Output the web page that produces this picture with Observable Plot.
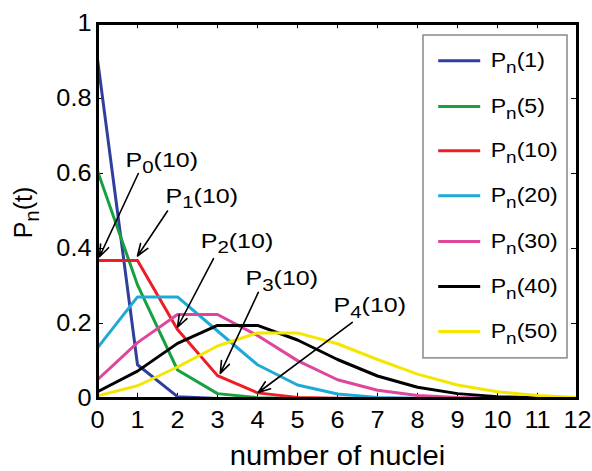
<!DOCTYPE html>
<html>
<head>
<meta charset="utf-8">
<script src="https://cdn.jsdelivr.net/npm/d3@7"></script>
<script src="https://cdn.jsdelivr.net/npm/@observablehq/plot@0.6"></script>
<style>
  html, body { margin: 0; padding: 0; background: #fff; }
  #chart svg { display: block; }
</style>
</head>
<body>
<div id="chart"></div>
<script>
// ---- data ----
const nuclei = [0, 1, 2, 3, 4, 5, 6, 7, 8, 9, 10, 11, 12];
const seriesNames = ["P_n(1)", "P_n(5)", "P_n(10)", "P_n(20)", "P_n(30)", "P_n(40)", "P_n(50)"];
const seriesColors = ["#2e3f9e", "#16a040", "#ee1c24", "#1eaad6", "#e0459c", "#000000", "#f5e600"];
const p1  = [0.905, 0.090, 0.005, 0.000, 0.000, 0.000, 0.000, 0.000, 0.000, 0.000, 0.000, 0.000, 0.000];
const p5  = [0.607, 0.303, 0.076, 0.013, 0.002, 0.000, 0.000, 0.000, 0.000, 0.000, 0.000, 0.000, 0.000];
const p10 = [0.368, 0.368, 0.184, 0.061, 0.015, 0.003, 0.001, 0.000, 0.000, 0.000, 0.000, 0.000, 0.000];
const p20 = [0.135, 0.271, 0.271, 0.180, 0.090, 0.036, 0.012, 0.003, 0.001, 0.000, 0.000, 0.000, 0.000];
const p30 = [0.050, 0.149, 0.224, 0.224, 0.168, 0.101, 0.050, 0.022, 0.008, 0.003, 0.001, 0.000, 0.000];
const p40 = [0.018, 0.073, 0.147, 0.195, 0.195, 0.156, 0.104, 0.060, 0.030, 0.013, 0.005, 0.002, 0.001];
const p50 = [0.007, 0.034, 0.084, 0.140, 0.175, 0.175, 0.146, 0.104, 0.065, 0.036, 0.018, 0.008, 0.003];
const seriesValues = [p1, p5, p10, p20, p30, p40, p50];

const xTicks = [0, 1, 2, 3, 4, 5, 6, 7, 8, 9, 10, 11, 12];
const yTicks = [0, 0.2, 0.4, 0.6, 0.8, 1];
const yTickLabels = ["0", "0.2", "0.4", "0.6", "0.8", "1"];
const xLabel = "number of nuclei";
const yLabel = "P_n(t)";

// annotations (data units): label, label position, arrow tail, arrow tip
const annLabels = ["P_0(10)", "P_1(10)", "P_2(10)", "P_3(10)", "P_4(10)"];
const annTextX  = [0.70, 1.70, 2.58, 3.70, 5.90];
const annTextY  = [0.635, 0.540, 0.420, 0.320, 0.248];
const annTailX  = [1.02, 1.75, 2.90, 4.02, 6.37];
const annTailY  = [0.600, 0.500, 0.373, 0.283, 0.203];
const annTipX   = [0.05, 1.00, 2.00, 3.07, 4.02];
const annTipY   = [0.378, 0.380, 0.190, 0.067, 0.016];

// legend box and rows (data units)
const legendBox = {x1: 8.15, x2: 11.75, y1: 0.107, y2: 0.968};
const legendRowY = [0.901, 0.779, 0.661, 0.541, 0.419, 0.299, 0.179];
const legendLineX = [8.53, 9.58];
const legendTextX = 9.83;

// ---- build tables ----
const lineData = [];
seriesNames.forEach((name, i) => {
  nuclei.forEach((n, j) => lineData.push({series: name, n, p: seriesValues[i][j]}));
});
const ann = annLabels.map((l, i) => ({
  label: l, tx: annTextX[i], ty: annTextY[i],
  x1: annTailX[i], y1: annTailY[i], x2: annTipX[i], y2: annTipY[i]
}));
const legendRows = seriesNames.map((name, i) => ({
  name, color: seriesColors[i], y: legendRowY[i]
}));

const font = "'Liberation Sans', Arial, Helvetica, sans-serif";

const chart = Plot.plot({
  width: 592,
  height: 471,
  marginLeft: 97,
  marginRight: 15,
  marginTop: 23,
  marginBottom: 73,
  style: {fontFamily: font, fontSize: "23px", color: "#000", background: "#fff"},
  x: {domain: [0, 12], ticks: xTicks},
  y: {domain: [0, 1], ticks: yTicks},
  color: {domain: seriesNames, range: seriesColors},
  marks: [
    Plot.axisX({ticks: xTicks, tickSize: 0, tickPadding: 13, label: null, fontSize: 23}),
    Plot.axisY({ticks: yTicks, tickSize: 0, tickPadding: 6, label: null, fontSize: 23,
      tickFormat: (d) => yTickLabels[yTicks.indexOf(d)]}),
    // inward ticks on all sides
    Plot.ruleX(xTicks, {y1: 0, y2: 0.014, stroke: "#000", strokeWidth: 1}),
    Plot.ruleX(xTicks, {y1: 1, y2: 0.986, stroke: "#000", strokeWidth: 1}),
    Plot.ruleY(yTicks, {x1: 0, x2: 0.15, stroke: "#000", strokeWidth: 1}),
    Plot.ruleY(yTicks, {x1: 12, x2: 11.85, stroke: "#000", strokeWidth: 1}),
    // series
    Plot.line(lineData, {x: "n", y: "p", z: "series", stroke: "series", strokeWidth: 3}),
    // annotations
    Plot.arrow(ann, {x1: "x1", y1: "y1", x2: "x2", y2: "y2", stroke: "#000",
      strokeWidth: 1.6, headLength: 12, headAngle: 40}),
    Plot.text(ann, {x: "tx", y: "ty", text: "label", textAnchor: "start", fontSize: 21, fill: "#000"}),
    // legend
    Plot.rect([legendBox], {x1: "x1", x2: "x2", y1: "y1", y2: "y2", fill: "#fff",
      stroke: "#888", strokeWidth: 1.5}),
    Plot.ruleY(legendRows, {y: "y", x1: legendLineX[0], x2: legendLineX[1], stroke: "color", strokeWidth: 3}),
    Plot.text(legendRows, {x: legendTextX, y: "y", text: "name", textAnchor: "start", fontSize: 21, fill: "#000"}),
    // frame
    Plot.frame({stroke: "#000", strokeWidth: 3}),
    // axis labels
    Plot.text([xLabel], {frameAnchor: "bottom", dy: 66, fontSize: 27, fill: "#000"}),
    Plot.text([yLabel], {frameAnchor: "left", textAnchor: "middle", dx: -71, rotate: -90, fontSize: 25, fill: "#000"})
  ]
});

// classify text elements (before subscript processing)
const kind = new Map();
chart.querySelectorAll("text").forEach((t) => {
  const s = t.textContent;
  const grp = t.closest("g[aria-label]");
  const al = grp ? grp.getAttribute("aria-label") : "";
  if (al && al.startsWith("x-axis tick label")) kind.set(t, "xt");
  else if (al && al.startsWith("y-axis tick label")) kind.set(t, "yt");
  else if (s === yLabel) kind.set(t, "yl");
  else if (s === xLabel) kind.set(t, "xl");
  else if (annLabels.includes(s)) kind.set(t, "ann");
  else if (seriesNames.includes(s)) kind.set(t, "leg");
});

// subscripts: "X_s(rest)" -> X, subscript s, rest
chart.querySelectorAll("text").forEach((t) => {
  const s = t.textContent;
  const m = s.match(/^(.*?)_(\w)(.*)$/);
  if (!m) return;
  while (t.firstChild) t.removeChild(t.firstChild);
  const ns = "http://www.w3.org/2000/svg";
  const a = document.createElementNS(ns, "tspan"); a.textContent = m[1];
  const b = document.createElementNS(ns, "tspan"); b.textContent = m[2];
  b.setAttribute("dy", "0.32em"); b.setAttribute("font-size", "0.82em");
  const c = document.createElementNS(ns, "tspan"); c.textContent = m[3];
  c.setAttribute("dy", "-0.26em");
  t.appendChild(a); t.appendChild(b); t.appendChild(c);
});

document.getElementById("chart").appendChild(chart);

// the reference glyphs are a little wider than Arial: stretch horizontally
// around each label's anchor point
const stretch = {xt: 1.1, yt: 1.1, ann: 1.19, leg: 1.1, xl: 1.08};
kind.forEach((k, t) => {
  const f = stretch[k];
  if (!f) return;
  const bb = t.getBBox();
  const anchor = getComputedStyle(t).textAnchor;
  const ax = anchor === "end" ? bb.x + bb.width : anchor === "middle" ? bb.x + bb.width / 2 : bb.x;
  const prev = t.getAttribute("transform") || "";
  t.setAttribute("transform",
    `${prev} translate(${ax.toFixed(2)},0) scale(${f},1) translate(${(-ax).toFixed(2)},0)`.trim());
});

// centre the rotated y label beside the plot area (screen-space check)
const svgBox = chart.getBoundingClientRect();
const yTarget = 23 + (471 - 23 - 73) / 2 + 2; // just below the middle of the frame
const xTarget = 26;
kind.forEach((k, t) => {
  if (k !== "yl") return;
  const r = t.getBoundingClientRect();
  const cx = r.left + r.width / 2 - svgBox.left;
  const cy = r.top + r.height / 2 - svgBox.top;
  const prev = t.getAttribute("transform") || "";
  t.setAttribute("transform", `translate(${(xTarget - cx).toFixed(2)},${(yTarget - cy).toFixed(2)}) ${prev}`.trim());
});
</script>
</body>
</html>
